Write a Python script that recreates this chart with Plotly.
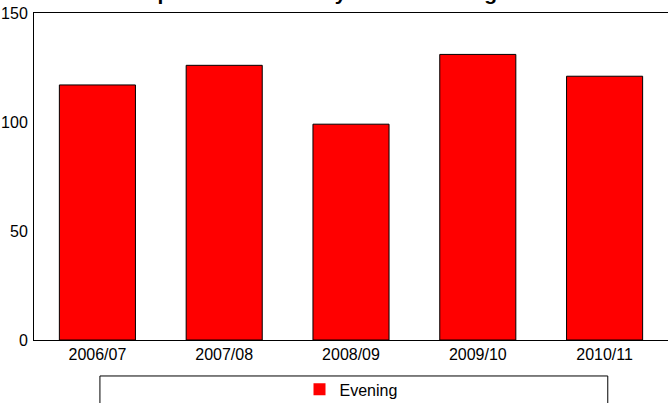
import plotly.graph_objects as go

categories = ["2006/07", "2007/08", "2008/09", "2009/10", "2010/11"]
evening = [117, 126, 99, 131, 121]
series_name = "Evening"
title_text = "Complaints received by shift - Evening"
y_ticks = [0, 50, 100, 150]

FONT = "Arial, Liberation Sans, sans-serif"

fig = go.Figure()
fig.add_trace(go.Bar(
    x=categories, y=evening, name=series_name,
    marker=dict(color="#ff0000", line=dict(color="#000000", width=1)),
    showlegend=False,
))
# legend entry (plain red square, as in the reference legend)
fig.add_trace(go.Bar(
    x=[categories[0]], y=[None], name=series_name,
    marker=dict(color="#ff0000", line=dict(width=0)),
    showlegend=True, hoverinfo="skip",
))

fig.update_layout(
    width=668, height=403,
    margin=dict(l=34, r=0, t=13, b=63, autoexpand=False),
    paper_bgcolor="white", plot_bgcolor="white",
    font=dict(family=FONT, size=16, color="#000000"),
    bargap=0.4, barmode="overlay",
    title=dict(text="<b>" + title_text + "</b>", x=0.455, xanchor="center",
               y=1.0, yref="container", yanchor="bottom",
               font=dict(family=FONT, size=21, color="#000000")),
    showlegend=True,
    legend=dict(orientation="h", x=0.5, xanchor="center", y=0.076, yref="container",
                yanchor="top", itemwidth=30, font=dict(family=FONT, size=16),
                bgcolor="rgba(0,0,0,0)"),
    shapes=[dict(type="rect", xref="paper", yref="paper",
                 x0=0.104, x1=0.905, y0=-0.110, y1=-0.35,
                 line=dict(color="#000000", width=1), fillcolor="rgba(0,0,0,0)", layer="below")],
)
fig.update_xaxes(showline=True, linecolor="#000000", linewidth=1, mirror=True,
                 showgrid=False, ticks="", automargin=False, tickfont=dict(size=16))
fig.update_yaxes(range=[0, 150], tickvals=y_ticks, showline=True, linecolor="#000000",
                 linewidth=1, showgrid=False, zeroline=False, ticks="", automargin=False,
                 ticklabelstandoff=2, tickfont=dict(size=16))

fig.write_html("out.html", config={"displayModeBar": False},
               post_script="document.body.style.margin='0';document.body.style.overflow='hidden';")
